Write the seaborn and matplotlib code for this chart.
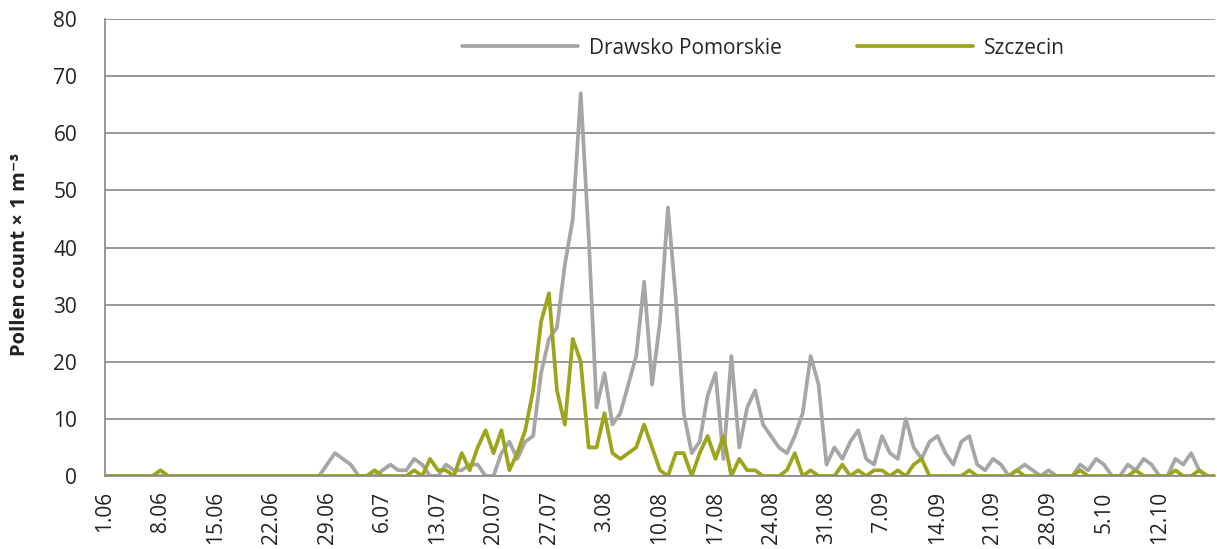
import numpy as np
import pandas as pd
import matplotlib
matplotlib.use("Agg")
import matplotlib.pyplot as plt
import seaborn as sns

# daily pollen counts 1.06 - 19.10 (one row = one week)
drawsko = [
    0, 0, 0, 0, 0, 0, 0,
    0, 0, 0, 0, 0, 0, 0,
    0, 0, 0, 0, 0, 0, 0,
    0, 0, 0, 0, 0, 0, 0,
    2, 4, 3, 2, 0, 0, 0,
    1, 2, 1, 1, 3, 2, 0,
    0, 2, 1, 1, 2, 2, 0,
    0, 4, 6, 3, 6, 7, 18,
    24, 26, 37, 45, 67, 42, 12,
    18, 9, 11, 16, 21, 34, 16,
    27, 47, 31, 11, 4, 6, 14,
    18, 3, 21, 5, 12, 15, 9,
    7, 5, 4, 7, 11, 21, 16,
    2, 5, 3, 6, 8, 3, 2,
    7, 4, 3, 10, 5, 3, 6,
    7, 4, 2, 6, 7, 2, 1,
    3, 2, 0, 1, 2, 1, 0,
    1, 0, 0, 0, 2, 1, 3,
    2, 0, 0, 2, 1, 3, 2,
    0, 0, 3, 2, 4, 1, 0,
    0,
]
szczecin = [
    0, 0, 0, 0, 0, 0, 0,
    1, 0, 0, 0, 0, 0, 0,
    0, 0, 0, 0, 0, 0, 0,
    0, 0, 0, 0, 0, 0, 0,
    0, 0, 0, 0, 0, 0, 1,
    0, 0, 0, 0, 1, 0, 3,
    1, 1, 0, 4, 1, 5, 8,
    4, 8, 1, 4, 8, 15, 27,
    32, 15, 9, 24, 20, 5, 5,
    11, 4, 3, 4, 5, 9, 5,
    1, 0, 4, 4, 0, 4, 7,
    3, 7, 0, 3, 1, 1, 0,
    0, 0, 1, 4, 0, 1, 0,
    0, 0, 2, 0, 1, 0, 1,
    1, 0, 1, 0, 2, 3, 0,
    0, 0, 0, 0, 1, 0, 0,
    0, 0, 0, 1, 0, 0, 0,
    0, 0, 0, 0, 1, 0, 0,
    0, 0, 0, 0, 1, 0, 0,
    0, 0, 1, 0, 0, 1, 0,
    0,
]
tick_labels = ["1.06", "8.06", "15.06", "22.06", "29.06", "6.07", "13.07",
               "20.07", "27.07", "3.08", "10.08", "17.08", "24.08", "31.08",
               "7.09", "14.09", "21.09", "28.09", "5.10", "12.10", ""]

colors = {"Drawsko Pomorskie": "#A6A6A8", "Szczecin": "#9CA51B"}
axis_grey = "#868686"

df = pd.DataFrame({"day": np.arange(len(drawsko)),
                   "Drawsko Pomorskie": drawsko,
                   "Szczecin": szczecin})
df = df.melt(id_vars="day", var_name="station", value_name="count")

sns.set_style("white")
plt.rcParams["font.family"] = ["Open Sans", "DejaVu Sans"]
plt.rcParams["lines.solid_joinstyle"] = "round"
plt.rcParams["lines.solid_capstyle"] = "round"

fig = plt.figure(figsize=(12.17, 5.49), dpi=100)
ax = fig.add_axes([105 / 1217, 73 / 549, 1110 / 1217, 457 / 549])

sns.lineplot(data=df, x="day", y="count", hue="station", palette=colors,
             linewidth=2.7, ax=ax)

ax.set_xlim(0, len(drawsko) - 1)
ax.set_ylim(0, 80)
ax.set_yticks(range(0, 81, 10))
ax.set_xticks(range(0, len(drawsko), 7))
ax.set_xticklabels(tick_labels, rotation=90)
ax.tick_params(axis="x", length=7, width=1.2, color=axis_grey, pad=4,
               labelsize=15, labelcolor="#222222")
ax.tick_params(axis="y", length=14, width=1.2, color=axis_grey, pad=6,
               labelsize=15, labelcolor="#222222")

ax.yaxis.grid(True, color=axis_grey, linewidth=1.2)
ax.xaxis.grid(False)
for side in ["top", "right"]:
    ax.spines[side].set_visible(False)
for side in ["left", "bottom"]:
    ax.spines[side].set_color(axis_grey)
    ax.spines[side].set_linewidth(1.2)

ax.set_xlabel("")
ax.set_ylabel("Pollen count × 1 m⁻³", fontsize=14.5, fontweight="bold",
              color="#222222")
ax.yaxis.set_label_coords(-0.068, 0.485)

handles, labels = ax.get_legend_handles_labels()
ax.legend(handles, labels, loc="center", bbox_to_anchor=(0.593, 0.936),
          ncol=2, frameon=False, fontsize=15, handlelength=5.6,
          handletextpad=0.5, columnspacing=3.6)

fig.savefig("out.png", dpi=100)
